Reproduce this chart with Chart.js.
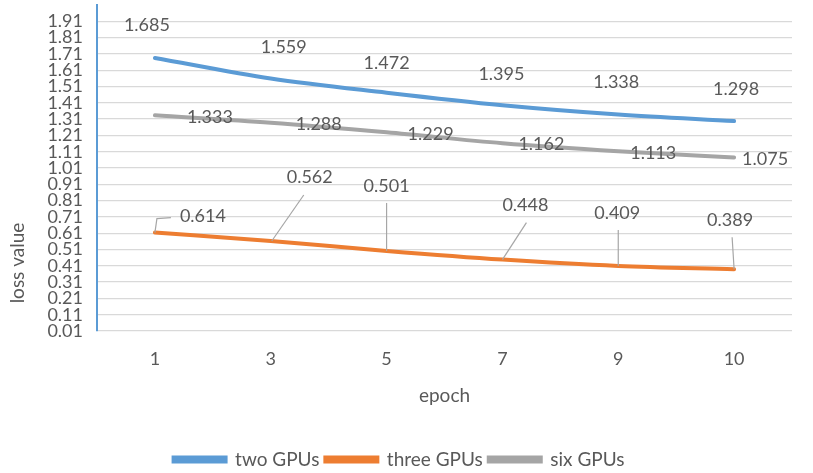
<!DOCTYPE html>
<html>
<head>
<meta charset="utf-8">
<script src="https://cdn.jsdelivr.net/npm/chart.js@4.4.1/dist/chart.umd.min.js"></script>
<style>
  html, body { margin: 0; padding: 0; background: #fff; }
  #wrap { width: 813px; height: 473px; }
</style>
</head>
<body>
<div id="wrap"><canvas id="lossChart"></canvas></div>
<script>
const epochs = ['1', '3', '5', '7', '9', '10'];
const twoGpus = [1.685, 1.559, 1.472, 1.395, 1.338, 1.298];
const threeGpus = [0.614, 0.562, 0.501, 0.448, 0.409, 0.389];
const sixGpus = [1.333, 1.288, 1.229, 1.162, 1.113, 1.075];

const textColor = '#595959';
const fontFamily = 'Lato, "Open Sans", sans-serif';

// where each value label sits relative to its point, and its leader line (if any)
const labelOffsets = [
    [[-8, -33], [13, -31], [0, -30], [-1, -31], [-2, -32], [2, -32]],
    [[48, -16], [39, -64], [0, -65], [23, -54], [-1, -53], [-4, -49]],
    [[55, 2], [48, 2], [44, 2], [39, 1], [35, 2], [31, 2]]
];
const leaders = [
    null,
    [
        [[0, 0], [2, -14], [16, -15]],
        [[1, 0], [33, -46]],
        [[0, 0], [0, -48]],
        [[0, 0], [24, -37]],
        [[0, 0], [0, -36]],
        [[0, 0], [-2, -32]]
    ],
    null
];

const valueLabels = {
    id: 'valueLabels',
    afterDatasetsDraw(chart) {
        const ctx = chart.ctx;
        ctx.save();
        chart.data.datasets.forEach((ds, di) => {
            const meta = chart.getDatasetMeta(di);
            meta.data.forEach((pt, i) => {
                const lead = leaders[di] && leaders[di][i];
                if (lead) {
                    ctx.strokeStyle = '#A6A6A6';
                    ctx.lineWidth = 1.2;
                    ctx.beginPath();
                    lead.forEach((p, k) => {
                        if (k === 0) ctx.moveTo(pt.x + p[0], pt.y + p[1]);
                        else ctx.lineTo(pt.x + p[0], pt.y + p[1]);
                    });
                    ctx.stroke();
                }
                const off = labelOffsets[di][i];
                ctx.fillStyle = textColor;
                ctx.font = '18px ' + fontFamily;
                ctx.textAlign = 'center';
                ctx.textBaseline = 'middle';
                ctx.fillText(ds.data[i].toFixed(3), pt.x + off[0], pt.y + off[1]);
            });
        });
        // y axis title, sits low like the original
        ctx.translate(18, 263);
        ctx.rotate(-Math.PI / 2);
        ctx.fillStyle = textColor;
        ctx.font = '19px ' + fontFamily;
        ctx.textAlign = 'center';
        ctx.textBaseline = 'middle';
        ctx.fillText('loss value', 0, 0);
        ctx.restore();
    }
};

new Chart(document.getElementById('lossChart'), {
    type: 'line',
    data: {
        labels: epochs,
        datasets: [
            { label: 'two GPUs', data: twoGpus, borderColor: '#5B9BD5', backgroundColor: '#5B9BD5' },
            { label: 'three GPUs', data: threeGpus, borderColor: '#ED7D31', backgroundColor: '#ED7D31' },
            { label: 'six GPUs', data: sixGpus, borderColor: '#A5A5A5', backgroundColor: '#A5A5A5' }
        ]
    },
    options: {
        responsive: true,
        maintainAspectRatio: false,
        animation: false,
        layout: { padding: { top: 5, right: 21, left: 6, bottom: -6 } },
        elements: {
            line: { borderWidth: 4, cubicInterpolationMode: 'monotone', borderCapStyle: 'round' },
            point: { radius: 0 }
        },
        plugins: {
            legend: {
                position: 'bottom',
                labels: {
                    color: textColor,
                    font: { size: 19, family: fontFamily },
                    boxWidth: 52,
                    boxHeight: 4,
                    padding: 6
                }
            },
            tooltip: { enabled: false }
        },
        scales: {
            x: {
                offset: true,
                grid: { display: false },
                border: { display: false },
                ticks: { color: textColor, font: { size: 18, family: fontFamily }, padding: 9, autoSkip: false, maxRotation: 0 },
                title: {
                    display: true,
                    text: 'epoch',
                    color: textColor,
                    font: { size: 19, family: fontFamily },
                    padding: { top: 14, bottom: 37 }
                },
                afterFit(scale) { scale.height = 113; }
            },
            y: {
                min: 0.01,
                max: 2.01,
                grid: {
                    color: (c) => (c.tick && c.tick.value > 2) ? 'rgba(0,0,0,0)' : '#D9D9D9',
                    lineWidth: 1.3,
                    drawTicks: false
                },
                border: { display: true, color: '#5B9BD5', width: 2 },
                ticks: {
                    stepSize: 0.1,
                    autoSkip: false,
                    color: textColor,
                    font: { size: 18, family: fontFamily },
                    padding: 14,
                    callback: (v) => v > 2 ? '' : v.toFixed(2)
                },
                afterFit(scale) {
                    scale.width = 91;
                    scale.paddingTop = 0;
                }
            }
        }
    },
    plugins: [valueLabels]
});
</script>
</body>
</html>
